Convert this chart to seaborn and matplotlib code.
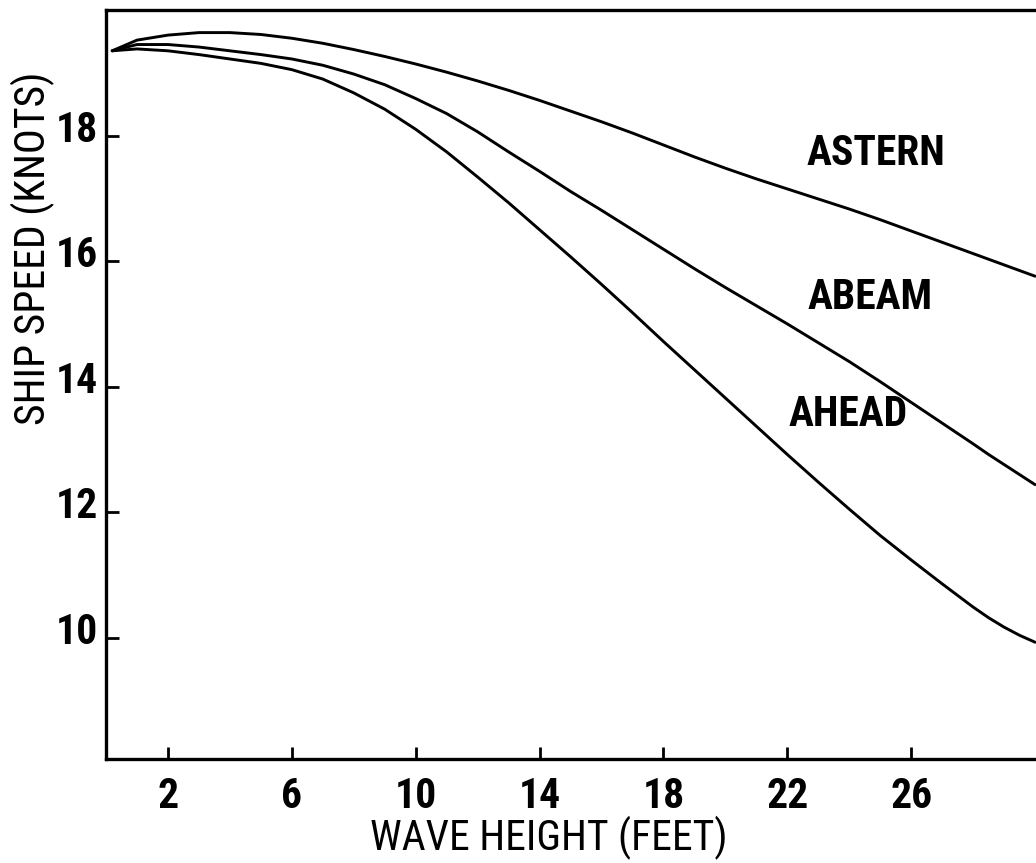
import matplotlib
matplotlib.use("Agg")
import matplotlib.pyplot as plt
import matplotlib.transforms as mtransforms
from matplotlib import font_manager as fm
import seaborn as sns
import pandas as pd

# Data
wave_height = [0.2, 1, 2, 3, 4, 5, 6, 7, 8, 9, 10, 11, 12, 13, 14, 15, 16, 17, 18, 19,
               20, 21, 22, 23, 24, 25, 26, 27, 28, 28.5, 29, 29.5, 30]
astern = [19.35, 19.52, 19.60, 19.64, 19.64, 19.61, 19.55, 19.47, 19.37, 19.26, 19.14,
          19.01, 18.87, 18.72, 18.56, 18.39, 18.22, 18.04, 17.85, 17.66, 17.48, 17.31,
          17.15, 16.99, 16.83, 16.66, 16.48, 16.30, 16.12, 16.03, 15.94, 15.85, 15.76]
abeam = [19.35, 19.45, 19.45, 19.41, 19.35, 19.29, 19.22, 19.12, 18.98, 18.81, 18.59,
         18.35, 18.06, 17.74, 17.43, 17.11, 16.81, 16.50, 16.19, 15.88, 15.58, 15.29,
         15.00, 14.70, 14.40, 14.08, 13.75, 13.42, 13.09, 12.92, 12.76, 12.60, 12.44]
ahead = [19.35, 19.38, 19.35, 19.29, 19.22, 19.15, 19.05, 18.90, 18.68, 18.42, 18.10,
         17.74, 17.34, 16.93, 16.50, 16.07, 15.63, 15.18, 14.72, 14.27, 13.82, 13.37,
         12.92, 12.48, 12.05, 11.63, 11.24, 10.86, 10.49, 10.32, 10.17, 10.04, 9.93]

series_names = ["ASTERN", "ABEAM", "AHEAD"]
label_x = [24.87, 24.68, 23.97]
label_y = [17.71, 15.42, 13.55]

x_ticks = [2, 6, 10, 14, 18, 22, 26]
y_ticks = [10, 12, 14, 16, 18]

df = pd.DataFrame({
    "wave": wave_height * 3,
    "speed": astern + abeam + ahead,
    "heading": [n for n in series_names for _ in wave_height],
})

sns.set_style("white")

available = {f.name for f in fm.fontManager.ttflist}
prefs = ["Roboto Condensed", "Archivo Narrow", "Barlow Semi Condensed", "Asap Condensed",
         "Liberation Sans Narrow"]
chosen = [p for p in prefs if p in available][:1]
FONT = chosen + ["DejaVu Sans"]
plt.rcParams["font.family"] = FONT
plt.rcParams["text.color"] = "black"
plt.rcParams["axes.labelcolor"] = "black"
plt.rcParams["xtick.color"] = "black"
plt.rcParams["ytick.color"] = "black"

W, H = 1036, 863
fig = plt.figure(figsize=(W / 100, H / 100), dpi=100)
fig.patch.set_facecolor("white")
ax = fig.add_axes([106 / W, (H - 759) / H, (W - 106) / W, (759 - 10) / H])

sns.lineplot(data=df, x="wave", y="speed", hue="heading", units="heading", estimator=None,
             palette={n: "black" for n in series_names}, legend=False, linewidth=2.1,
             sort=False, ax=ax)

ax.set_xlim(0, 30.03)
ax.set_ylim(8.07, 20.0)
ax.set_xticks(x_ticks)
ax.set_yticks(y_ticks)
ax.set_xticklabels([str(t) for t in x_ticks], fontsize=30, fontweight="bold")
ax.set_yticklabels([str(t) for t in y_ticks], fontsize=30, fontweight="bold")
ax.tick_params(axis="both", direction="in", length=9, width=2.0, color="black",
               labelcolor="black", bottom=True, left=True, top=False, right=False)
ax.tick_params(axis="x", pad=12)
ax.tick_params(axis="y", pad=6)

# y tick labels sit slightly above their ticks in the reference
lift = mtransforms.ScaledTranslation(0, 0.10, fig.dpi_scale_trans)
for lbl in ax.get_yticklabels():
    lbl.set_transform(lbl.get_transform() + lift)

for side in ["left", "bottom", "top"]:
    ax.spines[side].set_visible(True)
    ax.spines[side].set_color("black")
    ax.spines[side].set_linewidth(2.4)
ax.spines["right"].set_visible(False)

ax.set_xlabel("WAVE HEIGHT (FEET)", fontsize=30, color="black")
ax.set_ylabel("SHIP SPEED (KNOTS)", fontsize=30, color="black")
ax.xaxis.set_label_coords((549 - 106) / (W - 106), -(838 - 759) / (759 - 10))
ax.yaxis.set_label_coords(-(106 - 33) / (W - 106), (759 - 248) / (759 - 10))
ax.xaxis.label.set_va("center")
ax.yaxis.label.set_va("center")

for name, lx, ly in zip(series_names, label_x, label_y):
    ax.text(lx, ly, name, fontsize=30, fontweight="bold", ha="center", va="center",
            color="black")

ax.set_facecolor("white")
fig.savefig("out.png", dpi=100, facecolor="white")
